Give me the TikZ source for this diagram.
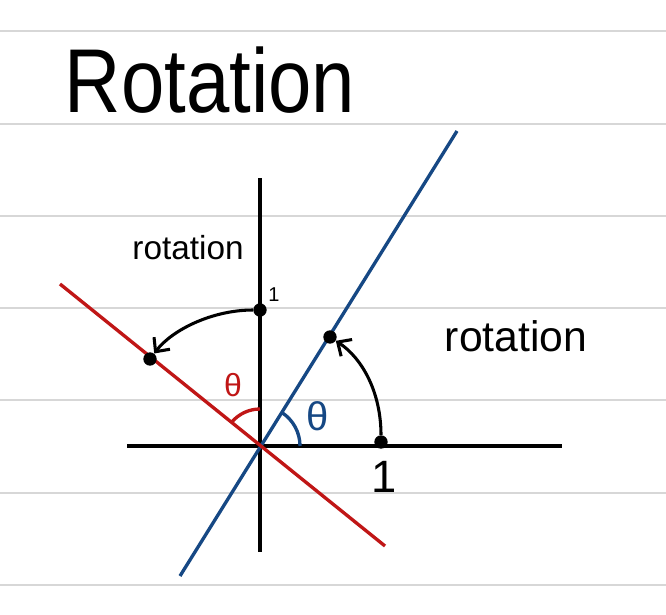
\documentclass[tikz,border=0pt]{standalone}
\usepackage{fontspec}
\setmainfont{Liberation Sans}
\usetikzlibrary{arrows.meta}
\definecolor{rule}{RGB}{215,215,215}
\definecolor{bl}{RGB}{22,72,132}
\definecolor{rd}{RGB}{192,22,22}
\tikzset{
  ruleline/.style={rule,line width=1.5pt},
  axis/.style={black,line width=2.5pt},
  dot/.style={circle,fill=black,inner sep=0pt,minimum size=10pt},
  rotarrow/.style={black,line width=2.3pt,-{Straight Barb[length=8pt,width=15pt,line width=2.3pt]}},
  lbl/.style={inner sep=0pt},
}
\begin{document}
\begin{tikzpicture}[x=0.75pt,y=-0.75pt]
\useasboundingbox (0,0) rectangle (666,614);
\fill[white] (0,0) rectangle (666,614);
\foreach \yy in {31,123.5,216,308,400,492.5,585}
  \draw[ruleline] (0,\yy) -- (666,\yy);
% title
\node[lbl,xscale=0.86] (title) at (210,80) {\fontsize{68}{70}\selectfont Rotation};
% axes
\coordinate (O) at (260,446);
\coordinate (xl) at (127,446);
\coordinate (xr) at (562,446);
\coordinate (yt) at (260,178);
\coordinate (yb) at (260,552);
\draw[axis] (xl) -- (xr);
\draw[axis] (yt) -- (yb);
% rotated lines
\coordinate (b1) at (180,576);
\coordinate (b2) at (457,131);
\coordinate (r1) at (60,284);
\coordinate (r2) at (385,546);
\draw[bl,line width=2.5pt] (b1) -- (b2);
\draw[rd,line width=2.5pt] (r1) -- (r2);
% angle marks
\draw[bl,line width=2.5pt] ([shift={(O)}]0:40) arc[start angle=0,end angle=-57,radius=40];
\draw[rd,line width=2.5pt] ([shift={(O)}]-90:37) arc[start angle=-90,end angle=-140,radius=37];
\node[lbl,bl] (tb) at (318,416) {\fontsize{30}{30}\selectfont θ};
\node[lbl,rd] (tr) at (233,385) {\fontsize{24}{24}\selectfont θ};
% points
\node[dot] (P1) at (381,442) {};
\node[dot] (P2) at (330,337) {};
\node[dot] (Q1) at (260,310) {};
\node[dot] (Q2) at (150,359) {};
% rotation arrows
\draw[rotarrow] (P1) .. controls (381,392) and (362,358) .. (P2);
\draw[rotarrow] (Q1) .. controls (212,310) and (172,330) .. (Q2);
% labels
\node[lbl] (one) at (384,477) {\fontsize{34}{34}\selectfont 1};
\node[lbl] (onep) at (274,295) {\fontsize{15}{15}\selectfont 1};
\node[lbl] (rotL) at (188,248) {\fontsize{25}{25}\selectfont rotation};
\node[lbl] (rotR) at (516,336) {\fontsize{32}{32}\selectfont rotation};
\end{tikzpicture}
\end{document}
